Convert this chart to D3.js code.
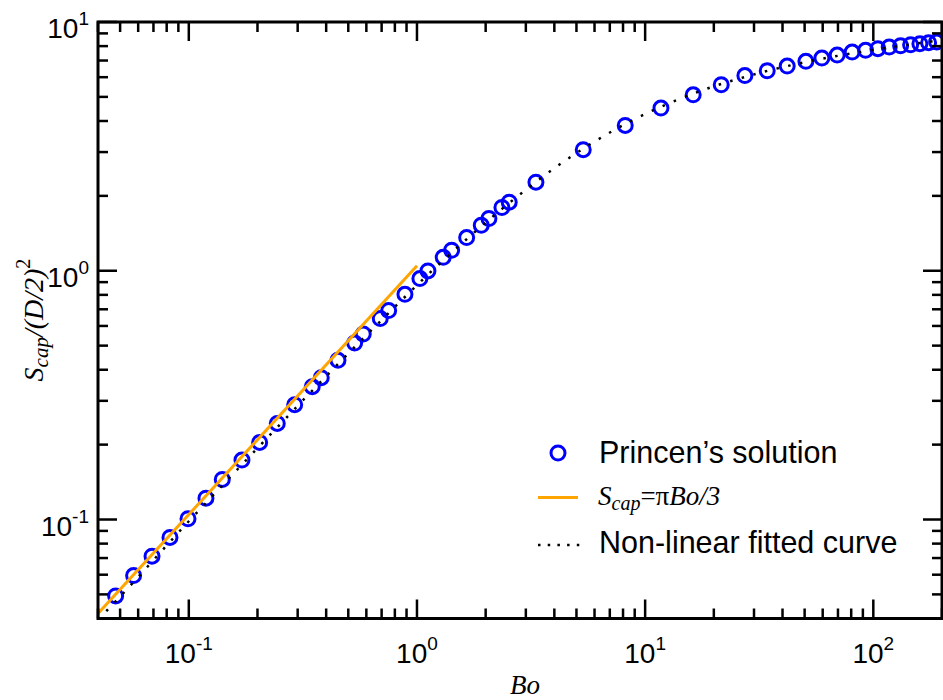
<!DOCTYPE html>
<html><head><meta charset="utf-8">
<script src="https://cdn.jsdelivr.net/npm/d3@7"></script>
<style>body{margin:0;background:#fff}</style>
</head><body><svg id="c" width="943" height="700"></svg>
<script>
// Princen's solution (circles)
const princenBo = [0.0478,0.0573,0.0690,0.0827,0.0992,0.1189,0.1402,0.1710,0.2044,0.2442,0.2911,0.3476,0.3806,0.4506,0.5331,0.5815,0.6904,0.7515,0.8857,1.030,1.117,1.303,1.419,1.651,1.913,2.067,2.357,2.537,3.322,5.354,8.179,11.73,16.24,21.55,27.36,34.28,41.94,50.65,59.52,69.45,80.80,92.49,104.7,117.4,131.7,145.7,160.0,174.7,189.4];
const princenS  = [0.0493,0.0595,0.0712,0.0847,0.1007,0.1218,0.1449,0.1733,0.2041,0.2433,0.2894,0.342,0.3716,0.4363,0.5122,0.5568,0.6423,0.6917,0.8044,0.9302,0.998,1.133,1.209,1.360,1.524,1.622,1.796,1.887,2.271,3.068,3.839,4.507,5.098,5.594,6.091,6.368,6.651,6.949,7.163,7.365,7.573,7.693,7.809,7.932,8.027,8.102,8.178,8.254,8.307];
// Non-linear fitted curve (dotted)
const fitBo = [0.04,0.0478,0.100,0.2275,0.4073,0.7364,1.239,2.563,4.119,8.49,16.36,29.28,52.36,94.97,200];
const fitS  = [0.0395,0.0469,0.0984,0.2192,0.3834,0.664,1.055,1.887,2.634,3.959,5.165,6.119,6.949,7.663,8.46];
// S_cap = pi Bo / 3 (orange line)
const linearBo = [0.04, 1];
const linearS  = [0.0419, 1.047];
// tick labels
const xMajor = [0.1, 1, 10, 100];
const xTickExp = ["-1", "0", "1", "2"];
const yMajor = [0.1, 1, 10];
const yTickExp = ["-1", "0", "1"];
const legendLabels = ["Princen\u2019s solution", "S_cap=\u03c0Bo/3", "Non-linear fitted curve"];

const svg = d3.select("#c");
const L = 98, R = 942, T = 22, B = 618.5;
const x = d3.scaleLog().domain([0.04, 200]).range([L, R]);
const y = d3.scaleLog().domain([0.04, 10]).range([B, T]);

svg.append("defs").append("clipPath").attr("id","clip")
  .append("rect").attr("x",L).attr("y",T).attr("width",R-L).attr("height",B-T);
const plot = svg.append("g").attr("clip-path","url(#clip)");

// circles
plot.selectAll("circle.p").data(princenBo.map((b,i)=>[b,princenS[i]])).enter()
  .append("circle").attr("class","p")
  .attr("cx",d=>x(d[0])).attr("cy",d=>y(d[1])).attr("r",7)
  .attr("fill","none").attr("stroke","#0000ff").attr("stroke-width",3);

// orange line
plot.append("path").datum(linearBo.map((b,i)=>[b,linearS[i]]))
  .attr("d", d3.line().x(d=>x(d[0])).y(d=>y(d[1])))
  .attr("fill","none").attr("stroke","#ffa500").attr("stroke-width",3);

// dotted fit
plot.append("path").datum(fitBo.map((b,i)=>[b,fitS[i]]))
  .attr("d", d3.line().x(d=>x(d[0])).y(d=>y(d[1])).curve(d3.curveMonotoneX))
  .attr("fill","none").attr("stroke","#000").attr("stroke-width",2.5)
  .attr("stroke-dasharray","2.5,9.5");

// ticks
const isMajor = v => Math.abs(Math.log10(v) - Math.round(Math.log10(v))) < 1e-9;
const tg = svg.append("g").attr("stroke","#000").attr("stroke-width",2.5);
const xt = x.ticks().filter(v => v>=0.04 && v<=200);
xt.forEach(v => {
  const len = isMajor(v) ? 19 : 10, px = x(v);
  tg.append("line").attr("x1",px).attr("x2",px).attr("y1",B).attr("y2",B-len);
  tg.append("line").attr("x1",px).attr("x2",px).attr("y1",T).attr("y2",T+len);
});
const yt = y.ticks().filter(v => v>=0.04 && v<=10);
yt.forEach(v => {
  const len = isMajor(v) ? 19 : 10, py = y(v);
  tg.append("line").attr("y1",py).attr("y2",py).attr("x1",L).attr("x2",L+len);
  tg.append("line").attr("y1",py).attr("y2",py).attr("x1",R).attr("x2",R-len);
});
// frame
svg.append("rect").attr("x",L).attr("y",T).attr("width",R-L).attr("height",B-T)
  .attr("fill","none").attr("stroke","#000").attr("stroke-width",3);

// tick labels
const sans = "'Liberation Sans', Arial, sans-serif";
xMajor.forEach((v,i) => {
  const t = svg.append("text").attr("x",x(v)).attr("y",663).attr("text-anchor","middle")
    .attr("font-family",sans).attr("font-size",28).attr("fill","#000");
  t.append("tspan").text("10");
  t.append("tspan").attr("font-size",19).attr("dy",-13).text(xTickExp[i]);
});
yMajor.forEach((v,i) => {
  const t = svg.append("text").attr("x",89).attr("y",y(v)+16).attr("text-anchor","end")
    .attr("font-family",sans).attr("font-size",28).attr("fill","#000");
  t.append("tspan").text("10");
  t.append("tspan").attr("font-size",19).attr("dy",-13).text(yTickExp[i]);
});

// axis titles
const serif = "'Liberation Serif', 'Times New Roman', serif";
svg.append("text").attr("x",525).attr("y",694).attr("text-anchor","middle")
  .attr("font-family",serif).attr("font-style","italic").attr("font-size",27).text("Bo");
const yl = svg.append("text").attr("transform","translate(43,320) rotate(-90)")
  .attr("text-anchor","middle").attr("font-family",serif).attr("font-size",28);
yl.append("tspan").attr("font-style","italic").text("S");
yl.append("tspan").attr("font-style","italic").attr("font-size",21).attr("dy",5).text("cap");
yl.append("tspan").attr("font-style","italic").attr("dy",-5).text("/(D/2)");
yl.append("tspan").attr("font-size",20).attr("dy",-13).text("2");

// legend
const lg = svg.append("g");
lg.append("circle").attr("cx",558).attr("cy",453).attr("r",7)
  .attr("fill","none").attr("stroke","#0000ff").attr("stroke-width",3);
lg.append("text").attr("x",599).attr("y",463).attr("font-family",sans).attr("font-size",30.5)
  .text(legendLabels[0]);
lg.append("line").attr("x1",538).attr("x2",578).attr("y1",497.5).attr("y2",497.5)
  .attr("stroke","#ffa500").attr("stroke-width",3);
const l2 = lg.append("text").attr("x",598).attr("y",505).attr("font-family",serif).attr("font-size",27);
l2.append("tspan").attr("font-style","italic").text("S");
l2.append("tspan").attr("font-style","italic").attr("font-size",20).attr("dy",5).text("cap");
l2.append("tspan").attr("dy",-5).text("=\u03c0");
l2.append("tspan").attr("font-style","italic").text("Bo/3");
lg.append("line").attr("x1",538).attr("x2",580).attr("y1",545).attr("y2",545)
  .attr("stroke","#000").attr("stroke-width",2.5).attr("stroke-dasharray","2.5,7.2");
lg.append("text").attr("x",599).attr("y",553).attr("font-family",sans).attr("font-size",30.5)
  .text(legendLabels[2]);
</script></body></html>
